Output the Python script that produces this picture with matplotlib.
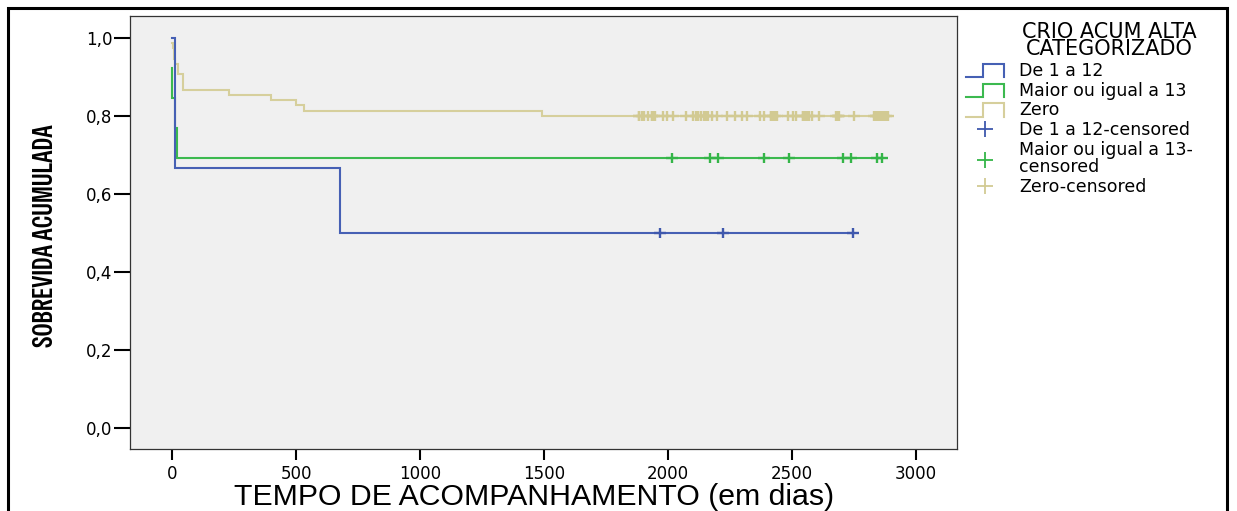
import matplotlib
matplotlib.use("Agg")
import matplotlib.pyplot as plt
from matplotlib.lines import Line2D
from matplotlib.legend_handler import HandlerBase
from matplotlib.path import Path
from matplotlib.patches import Rectangle
from matplotlib.textpath import TextPath
from matplotlib import font_manager
from matplotlib.font_manager import FontProperties

# ---- data -------------------------------------------------------------
group_labels = ["De 1 a 12", "Maior ou igual a 13", "Zero"]
censor_labels = ["De 1 a 12-censored", "Maior ou igual a 13-\ncensored", "Zero-censored"]
legend_title = "CRIO ACUM ALTA\nCATEGORIZADO"
x_label = "TEMPO DE ACOMPANHAMENTO (em dias)"
y_label = "SOBREVIDA ACUMULADA"

# step times (days) and cumulative survival from each time onward
g1_times = [0, 12, 677]
g1_surv = [1.000, 0.667, 0.500]
g1_censored = [1968, 2222, 2746]

g2_times = [0, 0, 12, 19]
g2_surv = [0.923, 0.846, 0.769, 0.692]
g2_censored = [2016, 2169, 2202, 2387, 2488, 2706, 2738, 2843, 2863]

g3_times = [0, 3, 6, 9, 12, 25, 42, 231, 399, 499, 532, 1492]
g3_surv = [0.987, 0.973, 0.960, 0.947, 0.933, 0.907, 0.867, 0.853, 0.840,
           0.827, 0.813, 0.800]
g3_censored = [1884, 1884, 1894, 1903, 1917, 1935, 1935, 1942, 1949, 1981,
               1997, 2021, 2073, 2101, 2113, 2122, 2122, 2132, 2144, 2151,
               2151, 2159, 2179, 2196, 2237, 2269, 2298, 2317, 2370, 2387,
               2414, 2414, 2422, 2430, 2438, 2485, 2505, 2516, 2543, 2543,
               2552, 2562, 2570, 2581, 2608, 2677, 2684, 2684, 2691, 2749,
               2831, 2839, 2839, 2847, 2855, 2863, 2863, 2871, 2879, 2885]

x_ticks = [0, 500, 1000, 1500, 2000, 2500, 3000]
x_tick_labels = ["0", "500", "1000", "1500", "2000", "2500", "3000"]
y_ticks = [0.0, 0.2, 0.4, 0.6, 0.8, 1.0]
y_tick_labels = ["0,0", "0,2", "0,4", "0,6", "0,8", "1,0"]

colors = ["#4660b4", "#3cb94f", "#d6cf9c"]
censor_colors = ["#3f58ad", "#34b548", "#d2ca93"]

# ---- fonts ------------------------------------------------------------
plt.rcParams["font.family"] = ["DejaVu Sans"]
PX_PER_PT = 100 / 72
EXCLUDED_FACES = ("bold", "black", "heavy", "medium", "light", "thin",
                  "italic", "oblique", "serif", "mono", "cjk")


def candidate_fonts():
    base = {"DejaVu Sans", "Liberation Sans", "Liberation Sans Narrow",
            "Noto Sans", "Roboto", "Open Sans", "Lato", "Inter"}
    out = []
    for f in font_manager.fontManager.ttflist:
        if f.style != "normal" or f.weight not in (400, "normal", "regular", "book"):
            continue
        fn = f.fname.lower().rsplit("/", 1)[-1]
        if any(w in fn for w in EXCLUDED_FACES):
            continue
        if f.name in base or "condensed" in fn or "narrow" in fn:
            out.append(f.fname)
    return sorted(set(out))


def fit_font(text, length_px, cap_px):
    """Choose the installed face whose proportions best give a text of the
    requested length and capital height, and the size that sets the length."""
    best = None
    target_ratio = length_px / cap_px
    for fname in candidate_fonts():
        try:
            fp = FontProperties(fname=fname)
            w = TextPath((0, 0), text, size=10, prop=fp).get_extents().width
            c = TextPath((0, 0), "H", size=10, prop=fp).get_extents().height
        except Exception:
            continue
        if w <= 0 or c <= 0:
            continue
        score = abs(w / c - target_ratio) / target_ratio
        if best is None or score < best[0]:
            best = (score, fname, w)
    if best is None:
        fp = FontProperties(family="DejaVu Sans")
        w = TextPath((0, 0), text, size=10, prop=fp).get_extents().width
        return fp, 10 * length_px / (w * PX_PER_PT)
    _, fname, w = best
    return FontProperties(fname=fname), 10 * length_px / (w * PX_PER_PT)


x_font, x_size = fit_font(x_label, 597, 19.5)
y_font, y_size = fit_font(y_label, 222, 20.0)
x_font.set_size(x_size)
y_font.set_size(y_size)

# censor mark: wider horizontal arm than vertical
plus_path = Path([(-0.65, 0), (0.65, 0), (0, -0.5), (0, 0.5)],
                 [Path.MOVETO, Path.LINETO, Path.MOVETO, Path.LINETO])


class StepHandler(HandlerBase):
    """Legend key drawn as a small survival step."""
    def create_artists(self, legend, orig_handle, xdescent, ydescent,
                       width, height, fontsize, trans):
        x0, y0 = -xdescent, -ydescent
        lo, hi = y0 - 0.1 * height, y0 + 1.0 * height
        xs = [x0, x0 + 0.45 * width, x0 + 0.45 * width, x0 + width, x0 + width]
        ys = [lo, lo, hi, hi, lo]
        ln = Line2D(xs, ys, color=orig_handle.get_color(),
                    lw=orig_handle.get_linewidth(), solid_joinstyle="miter")
        ln.set_transform(trans)
        return [ln]


fig = plt.figure(figsize=(12.37, 5.11), dpi=100)
fig.patch.set_facecolor("white")
ax = fig.add_axes([130 / 1237, 1 - 449 / 511, 827 / 1237, 433 / 511])
ax.set_facecolor("#f0f0f0")

groups = [(g1_times, g1_surv, g1_censored),
          (g2_times, g2_surv, g2_censored),
          (g3_times, g3_surv, g3_censored)]

# draw the paler curve first, as it lies underneath
for idx in [2, 1, 0]:
    times, surv, cens = groups[idx]
    end = max(cens)
    xs = list(times) + [end]
    ys = list(surv) + [surv[-1]]
    ax.plot(xs, ys, drawstyle="steps-post", color=colors[idx], lw=1.5,
            solid_joinstyle="miter", zorder=2)
    ax.plot(cens, [surv[-1]] * len(cens), linestyle="none", marker=plus_path,
            markersize=8.5, mew=1.7, color=censor_colors[idx], zorder=3)

ax.set_xlim(-170, 3165)
ax.set_ylim(-0.054, 1.056)
ax.set_xticks(x_ticks)
ax.set_xticklabels(x_tick_labels)
ax.set_yticks(y_ticks)
ax.set_yticklabels(y_tick_labels)
ax.tick_params(axis="x", direction="out", length=8, width=1.5, pad=3.5,
               labelsize=12, colors="black")
ax.tick_params(axis="y", direction="out", length=11.5, width=1.5, pad=1,
               labelsize=12, colors="black")
for sp in ax.spines.values():
    sp.set_color("#333333")
    sp.set_linewidth(0.9)

ax.set_xlabel(x_label, fontproperties=x_font, va="top")
ax.set_ylabel(y_label, fontproperties=y_font, va="center")
ax.xaxis.set_label_coords((534 - 130) / 827, (449 - 483) / 433)
ax.yaxis.set_label_coords((46 - 130) / 827, (449 - 236) / 433)

# legend: heading set above the keys, keys listed beneath it
fig.text(1109 / 1237, 1 - 22 / 511, legend_title, ha="center", va="top",
         fontsize=15, linespacing=0.84, multialignment="center")
step_handles = [Line2D([], [], color=c, lw=1.5) for c in colors]
censor_handles = [Line2D([], [], linestyle="none", marker="+", markersize=12,
                         mew=1.3, color=c) for c in censor_colors]
handler_map = {h: StepHandler() for h in step_handles}
leg = fig.legend(step_handles + censor_handles, group_labels + censor_labels,
                 handler_map=handler_map,
                 loc="upper left", bbox_to_anchor=(966 / 1237, 1 - 62 / 511),
                 frameon=False, fontsize=12.5,
                 handlelength=2.2, handletextpad=0.85, labelspacing=0.1,
                 borderpad=0, borderaxespad=0)
for t in leg.get_texts():
    t.set_linespacing(0.95)

# outer frame around the whole figure
fig.patches.append(Rectangle((8 / 1237, -0.05), 1219 / 1237, 1.05 - 8 / 511,
                             transform=fig.transFigure, fill=False,
                             edgecolor="black", lw=2.2, clip_on=False))

fig.savefig("out.png", dpi=100)
